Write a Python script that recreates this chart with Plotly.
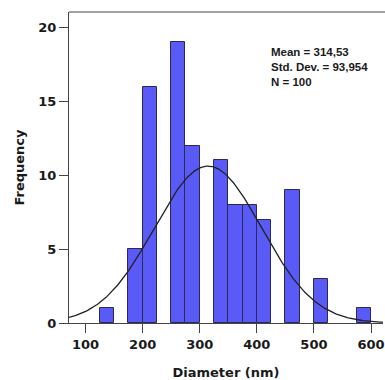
import numpy as np
import plotly.graph_objects as go

bin_starts = [125, 175, 200, 250, 275, 325, 350, 375, 400, 450, 500, 575]
counts = [1, 5, 16, 19, 12, 11, 8, 8, 7, 9, 3, 1]
bin_width = 25
mean_val = 314.53
std_val = 93.954
n_val = 100
x_ticks = [100, 200, 300, 400, 500, 600]
y_ticks = [0, 5, 10, 15, 20]
stats_lines = ["Mean = 314,53", "Std. Dev. = 93,954", "N = 100"]

centers = [s + bin_width / 2 for s in bin_starts]

xs = np.linspace(60, 640, 400)
ys = n_val * bin_width / (std_val * np.sqrt(2 * np.pi)) * np.exp(-0.5 * ((xs - mean_val) / std_val) ** 2)

fig = go.Figure()
fig.add_trace(go.Bar(x=centers, y=counts, width=bin_width,
                     marker=dict(color="#5a5af7", line=dict(color="#2a2a55", width=1)),
                     showlegend=False))
fig.add_trace(go.Scatter(x=xs, y=ys, mode="lines",
                         line=dict(color="#222222", width=1.3), showlegend=False))

font_family = "DejaVu Sans"
axis_col = "#444444"
fig.update_layout(
    width=385, height=380,
    margin=dict(l=69, r=0, t=12, b=57),
    plot_bgcolor="white", paper_bgcolor="white",
    bargap=0,
    font=dict(family=font_family, color="#1a1a1a"),
    xaxis=dict(range=[71, 621], tickvals=x_ticks, ticks="outside", ticklen=9,
               tickcolor=axis_col, showline=True, linecolor=axis_col, linewidth=1,
               showgrid=False, zeroline=False, ticklabeloverflow="allow",
               tickfont=dict(size=13, weight="bold", family=font_family),
               title=dict(text="Diameter (nm)", font=dict(size=13, weight="bold", family=font_family),
                          standoff=18)),
    yaxis=dict(range=[0, 21.04], tickvals=y_ticks, ticks="outside", ticklen=9,
               tickcolor=axis_col, showline=True, linecolor=axis_col, linewidth=1,
               showgrid=False, zeroline=False,
               tickfont=dict(size=13, weight="bold", family=font_family),
               title=dict(text="Frequency", font=dict(size=13, weight="bold", family=font_family),
                          standoff=10)),
)

# top frame line (no right border visible in reference)
fig.add_shape(type="line", xref="paper", yref="paper", x0=0, x1=1.05, y0=1, y1=1,
              line=dict(color=axis_col, width=1))

fig.add_annotation(
    x=(270 - 69) / 316, y=1 - (44 - 12) / 311, xref="paper", yref="paper",
    xanchor="left", yanchor="top",
    showarrow=False, align="left",
    text="<br>".join(stats_lines),
    font=dict(size=11.5, weight="bold", family="Liberation Sans", color="#1a1a1a"),
)

fig.write_html("out.html")
